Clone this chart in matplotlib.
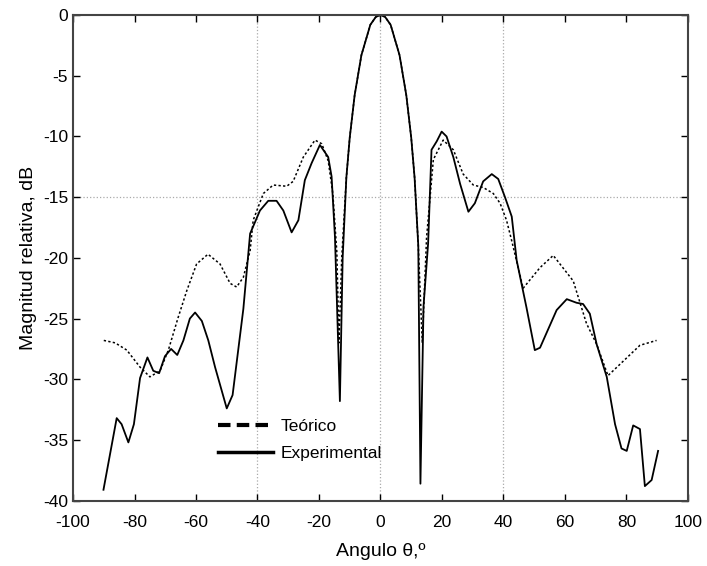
import numpy as np
import matplotlib.pyplot as plt
from matplotlib.lines import Line2D

plt.rcParams['font.family'] = ['Liberation Sans', 'DejaVu Sans']
plt.rcParams['axes.unicode_minus'] = False

# theoretical pattern (dotted)
theo_x = [-90, -86.3, -82.5, -78.2, -75, -71.7, -69, -65.8, -63, -59.8, -56.1, -52.2,
          -48.9, -46.8, -44.6, -42.4, -41.4, -38.1, -34.9, -30.5, -28.4, -25.1, -21.3, -19.1,
          -17, -15.5, -14.2, -13.5, -12.6, -11.1, -10, -8.4, -6.2, -3.3, -1.5, 0,
          1.5, 3.3, 6.2, 8.4, 10, 11.1, 12.3, 13.6, 15.0, 17.2, 20.4, 23.7, 26.9, 30.2,
          33.4, 36.7, 38.9, 41.0, 42.7, 46.4, 51.9, 56.2, 62.7, 67, 70.3, 74, 79, 84.4, 89.8]
theo_y = [-26.8, -27.0, -27.6, -29.0, -29.8, -29.3, -27.6, -24.9, -22.7, -20.5, -19.7, -20.5,
          -22.1, -22.4, -21.6, -19.4, -16.9, -14.7, -14.0, -14.1, -13.7, -11.7, -10.3, -10.6,
          -12.0, -14.7, -19.5, -27.0, -20.0, -13.4, -10.1, -6.6, -3.3, -0.8, -0.15, 0,
          -0.15, -0.8, -3.3, -6.6, -10.1, -13.4, -19.0, -27.0, -18.3, -11.9, -10.3, -11.1, -13.1, -14.0,
          -14.2, -14.7, -15.5, -16.9, -18.6, -22.5, -20.8, -19.8, -21.9, -25.4, -27.1, -29.7, -28.5, -27.2, -26.8]

# measured pattern (solid)
exp_x = [-90.1, -85.8, -84.2, -82.0, -80.2, -78.2, -75.8, -73.9, -72.0, -70.1, -68.1, -66.1,
         -64.1, -62.0, -60.3, -58.1, -56.0, -53.8, -50.0, -48.1, -44.6, -42.4, -39.2, -36.5,
         -33.8, -31.6, -28.9, -26.7, -24.6, -22.4, -19.7, -17.0, -15.9, -14.8, -13.2, -12.3,
         -11.1, -10, -8.4, -6.2, -3.3, -1.5, 0, 1.5, 3.3, 6.2, 8.4, 10, 11.1, 12.3, 13.0, 14.0, 15.5,
         16.6, 18.3, 19.9, 21.5, 23.7, 25.9, 28.6, 30.7, 33.4, 36.2, 38.3, 40.5, 42.7, 44.3,
         47.5, 50.2, 51.9, 57.3, 60.6, 63.8, 65.9, 68.1, 70.3, 73.6, 76.3, 78.4, 80.1, 82.2,
         84.4, 86.0, 88.2, 90.3]
exp_y = [-39.1, -33.2, -33.7, -35.2, -33.7, -29.9, -28.2, -29.3, -29.5, -28.1, -27.5, -28.0,
         -26.8, -25.0, -24.5, -25.2, -26.8, -29.0, -32.4, -31.3, -24.2, -18.0, -16.1, -15.3,
         -15.3, -16.1, -17.9, -16.9, -13.6, -12.2, -10.7, -11.7, -13.3, -18.3, -31.8, -20.0,
         -13.4, -10.1, -6.6, -3.3, -0.8, -0.15, 0, -0.15, -0.8, -3.3, -6.6, -10.1, -13.4, -19.0, -38.6, -24.0, -18.8,
         -11.1, -10.4, -9.6, -10.0, -11.7, -13.9, -16.2, -15.5, -13.7, -13.1, -13.5, -15.0, -16.6, -20.2,
         -24.1, -27.6, -27.4, -24.3, -23.4, -23.7, -23.8, -24.6, -27.1, -29.8, -33.7, -35.7, -35.9, -33.8,
         -34.1, -38.8, -38.3, -35.9]

x_ticks = np.arange(-100, 101, 20)
y_ticks = np.arange(-40, 1, 5)

fig = plt.figure(figsize=(7.07, 5.66), dpi=100)
ax = fig.add_axes([0.1033, 0.1154, 0.8697, 0.858])

# sparse dotted grid
for gx in [-40, 0, 40]:
    ax.axvline(gx, color='#aaaaaa', linestyle=':', linewidth=0.9, zorder=0)
ax.axhline(-15, color='#aaaaaa', linestyle=':', linewidth=0.9, zorder=0)

ax.plot(theo_x, theo_y, color='black', linestyle=(0, (1.5, 1.5)), linewidth=1.1)
ax.plot(exp_x, exp_y, color='black', linestyle='-', linewidth=1.3)

ax.set_xlim(-100, 100)
ax.set_ylim(-40, 0)
ax.set_xticks(x_ticks)
ax.set_yticks(y_ticks)
ax.tick_params(direction='in', top=True, right=True, labelsize=12.5, length=5, width=1)
ax.tick_params(axis='x', pad=10)
for s in ax.spines.values():
    s.set_linewidth(1.5)
    s.set_color('#444444')

ax.set_xlabel('Angulo θ,º', fontsize=14, labelpad=10)
ax.set_ylabel('Magnitud relativa, dB', fontsize=14)

handles = [Line2D([0], [0], color='black', linestyle=(0, (3, 1.5)), linewidth=3),
           Line2D([0], [0], color='black', linestyle='-', linewidth=2.5)]
ax.legend(handles, ['Teórico', 'Experimental'], loc='lower left',
          bbox_to_anchor=(0.21, 0.05), frameon=False, fontsize=12.5,
          handlelength=3.2, handletextpad=0.4, labelspacing=0.65)

fig.savefig('out.png', dpi=100)
